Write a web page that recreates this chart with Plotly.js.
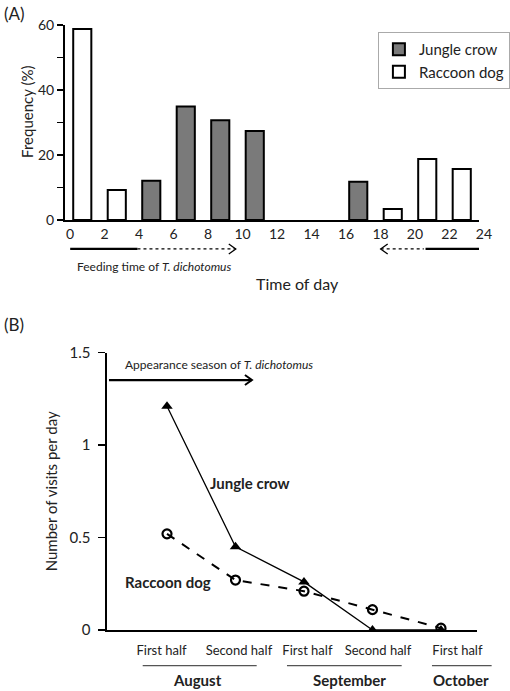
<!DOCTYPE html>
<html><head><meta charset="utf-8">
<script src="https://cdn.plot.ly/plotly-3.0.1.min.js"></script>
<style>html,body{margin:0;padding:0;background:#fff}#chart{width:510px;height:691px}</style>
</head><body><div id="chart"></div>
<script>
// ---- Panel A data: hourly visit frequency (%) ----
const hourTicks = [0,2,4,6,8,10,12,14,16,18,20,22,24];
const crowHours = [5,7,9,11,17];
const crowFreq  = [12.1,34.9,30.7,27.4,11.8];
const dogHours  = [1,3,19,21,23];
const dogFreq   = [58.8,9.2,3.4,18.8,15.7];
const freqTicks = [0,10,20,30,40,50,60];
const freqTickText = ['0','','20','','40','','60'];
// feeding time windows of T. dichotomus (hours): solid = certain, dotted = extended
const feedSolidMorning = [0.3,4.2];
const feedDotMorning   = [4.2,9.9];
const feedDotEvening   = [18.3,20.8];
const feedSolidEvening = [20.9,24.3];

// ---- Panel B data: visits per day by half-month ----
const periodIndex = [1,2,3,4,5];
const periodLabels = ['First half','Second half','First half','Second half','First half'];
const crowVisits = [1.21,0.45,0.26,0.0,0.0];
const dogVisits  = [0.52,0.27,0.21,0.11,0.01];
const months = ['August','September','October'];
const visitTicks = [0,0.5,1,1.5];
const visitTickText = ['0','0.5','1','1.5'];
const appearanceSeason = [0.153,2.24];

const FONT = 'Lato, "Open Sans", sans-serif';
const TXT = '#222';

const traces = [
  {type:'bar', x:crowHours, y:crowFreq, width:1.05, name:'Jungle crow', xaxis:'x', yaxis:'y',
   marker:{color:'#7a7a7a', line:{color:'#000', width:2}}},
  {type:'bar', x:dogHours, y:dogFreq, width:1.05, name:'Raccoon dog', xaxis:'x', yaxis:'y',
   marker:{color:'#ffffff', line:{color:'#000', width:2}}},
  {type:'scatter', mode:'lines+markers', x:periodIndex, y:crowVisits, xaxis:'x2', yaxis:'y2', showlegend:false,
   line:{color:'#000', width:1.3}, marker:{symbol:'triangle-up', size:10, color:'#000'}},
  {type:'scatter', mode:'lines+markers', x:periodIndex, y:dogVisits, xaxis:'x2', yaxis:'y2', showlegend:false,
   line:{color:'#000', width:2, dash:'dash'}, marker:{symbol:'circle-open', size:9, color:'#000', line:{width:2.2}}}
];

const periodTickPos = [0.92,2.05,3.05,4.08,5.24];
const monthPos = [0.3876,0.686,0.904];
const monthLines = [[0.2798,0.5033],[0.5627,0.7876],[0.847,0.964]];

const shapes = [];
function hline(x0,x1,y,xref,yref,w,dash,color){
  shapes.push({type:'line', x0:x0, x1:x1, y0:y, y1:y, xref:xref, yref:yref,
    line:{color:color||'#000', width:w, dash:dash||'solid'}});
}
function chevron(x,y,xref,yref,dir,w){
  const p = dir>0 ? 'M-7,-5L0,0L-7,5' : 'M7,-5L0,0L7,5';
  shapes.push({type:'path', xref:xref, yref:yref, xsizemode:'pixel', ysizemode:'pixel',
    xanchor:x, yanchor:y, path:p, line:{color:'#000', width:w}});
}
const yFeed = 0.6397;
hline(feedSolidMorning[0],feedSolidMorning[1],yFeed,'x','paper',2.2);
hline(feedDotMorning[0],feedDotMorning[1],yFeed,'x','paper',1.3,'dot');
chevron(feedDotMorning[1],yFeed,'x','paper',1,1.3);
hline(feedDotEvening[0],feedDotEvening[1],yFeed,'x','paper',1.3,'dot');
chevron(feedDotEvening[0],yFeed,'x','paper',-1,1.3);
hline(feedSolidEvening[0],feedSolidEvening[1],yFeed,'x','paper',2.2);
// appearance season arrow
hline(appearanceSeason[0],appearanceSeason[1],1.352,'x2','y2',2.2);
chevron(appearanceSeason[1],1.352,'x2','y2',1,2);
// month underlines
monthLines.forEach(m=>hline(m[0],m[1],0.0366,'paper','paper',1.2,'solid','#555'));

function ann(text,x,y,size,xanchor,angle){
  return {text:text, x:x, y:y, xref:'paper', yref:'paper', xanchor:xanchor||'center', yanchor:'middle',
    textangle:angle||0, showarrow:false, font:{size:size,color:TXT}};
}
const annotations = [
  ann('(A)',0.004,0.981,17,'left'),
  ann('(B)',0.004,0.5297,17,'left'),
  ann('Frequency (%)',0.0529,0.838,15,'center',-90),
  ann('Feeding time of <i>T. dichotomus</i>',0.302,0.615,12),
  ann('Time of day',0.5824,0.5904,16),
  ann('Appearance season of <i>T. dichotomus</i>',0.241,0.473,12,'left'),
  ann('<b>Jungle crow</b>',0.490,0.3015,15),
  ann('<b>Raccoon dog</b>',0.329,0.158,15)
];
months.forEach((m,i)=>annotations.push(ann('<b>'+m+'</b>',monthPos[i],0.0159,15)));

const layout = {
  width:510, height:691, margin:{l:0,r:0,t:0,b:0},
  paper_bgcolor:'#fff', plot_bgcolor:'rgba(0,0,0,0)',
  font:{family:FONT, color:TXT},
  barmode:'overlay', showlegend:true,
  legend:{x:0.741, y:0.9537, xanchor:'left', yanchor:'top', bgcolor:'#fff', bordercolor:'#aaa', borderwidth:1,
    font:{size:15,color:TXT}, tracegroupgap:0},
  xaxis:{domain:[0.1275,0.9392], anchor:'y', range:[0,24], tickvals:hourTicks, ticks:'', ticklabelshift:5,
    showline:true, linecolor:'#000', linewidth:2, showgrid:false, zeroline:false, tickfont:{size:14}},
  yaxis:{domain:[0.6816,0.9638], anchor:'x', range:[0,60], tickvals:freqTicks, ticktext:freqTickText,
    ticks:'outside', ticklen:6, tickwidth:1.5, tickcolor:'#000', showline:true, linecolor:'#000', linewidth:2,
    showgrid:false, zeroline:false, tickfont:{size:14}},
  xaxis2:{domain:[0.2098,0.9353], anchor:'y2', range:[0.124,5.526], tickvals:periodTickPos, ticktext:periodLabels,
    ticks:'', ticklabelstandoff:8, showline:true, linecolor:'#000', linewidth:1.6, showgrid:false, zeroline:false, tickfont:{size:13}},
  yaxis2:{domain:[0.0883,0.4896], anchor:'x2', range:[0,1.5], tickvals:visitTicks, ticktext:visitTickText,
    ticks:'outside', ticklen:7, tickwidth:1.5, tickcolor:'#000', ticklabelstandoff:5, showline:true, linecolor:'#000', linewidth:1.6,
    showgrid:false, zeroline:false, tickfont:{size:15}, title:{text:'Number of visits per day', font:{size:15}, standoff:8}},
  shapes:shapes, annotations:annotations
};
Plotly.newPlot('chart', traces, layout, {displayModeBar:false, staticPlot:true});
</script></body></html>
